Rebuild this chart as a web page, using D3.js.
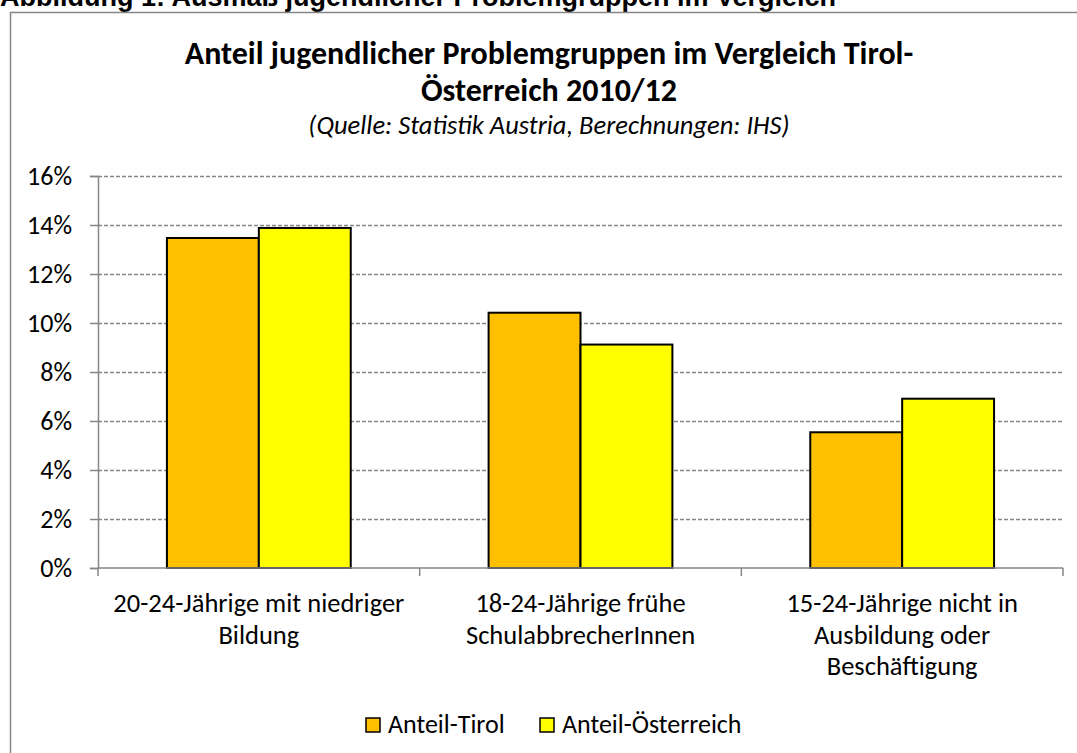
<!DOCTYPE html>
<html>
<head>
<meta charset="utf-8">
<script src="https://cdn.jsdelivr.net/npm/d3@7"></script>
<style>
  body { margin: 0; background: #fff; }
  svg { display: block; }
  .lbl { font-family: Carlito, Calibri, Lato, "Open Sans", sans-serif; fill: #000; }
</style>
</head>
<body>
<script>
var width = 1077;
var height = 753;

// data
var categories = [
  ['20-24-Jährige mit niedriger', 'Bildung'],
  ['18-24-Jährige frühe', 'SchulabbrecherInnen'],
  ['15-24-Jährige nicht in', 'Ausbildung oder', 'Beschäftigung']
];
var seriesNames = ['Anteil-Tirol', 'Anteil-Österreich'];
var seriesColors = ['#FFC000', '#FFFF00'];
var tirol = [0.1347, 0.1042, 0.0554];
var oesterreich = [0.1388, 0.0912, 0.0691];
var yTicks = [0, 0.02, 0.04, 0.06, 0.08, 0.10, 0.12, 0.14, 0.16];

var margin = {left: 98, right: 1063, top: 176, bottom: 568};

var svg = d3.select('body').append('svg')
  .attr('width', width).attr('height', height);

// header line above the figure (cut off at the top)
svg.append('text')
  .attr('x', 0).attr('y', 6)
  .style('font-family', '"Liberation Sans", Arial, sans-serif')
  .style('font-weight', 'bold').style('font-size', '27px')
  .text('Abbildung 1: Ausmaß jugendlicher Problemgruppen im Vergleich');

// chart frame
svg.append('rect')
  .attr('x', 10.5).attr('y', 12.5)
  .attr('width', 1200).attr('height', 900)
  .attr('fill', '#fff').attr('stroke', '#868686').attr('stroke-width', 1.5);

// titles
svg.append('text').attr('class', 'lbl')
  .attr('x', 549).attr('y', 64).attr('text-anchor', 'middle')
  .style('font-weight', 'bold').style('font-size', '32px')
  .text('Anteil jugendlicher Problemgruppen im Vergleich Tirol-');
svg.append('text').attr('class', 'lbl')
  .attr('x', 549).attr('y', 101).attr('text-anchor', 'middle')
  .style('font-weight', 'bold').style('font-size', '32px')
  .text('Österreich 2010/12');
svg.append('text').attr('class', 'lbl')
  .attr('x', 549).attr('y', 134).attr('text-anchor', 'middle')
  .style('font-style', 'italic').style('font-size', '26.5px')
  .text('(Quelle: Statistik Austria, Berechnungen: IHS)');

var y = d3.scaleLinear().domain([0, 0.16]).range([margin.bottom, margin.top]);
var x0 = d3.scaleBand().domain(d3.range(categories.length))
  .range([margin.left, margin.right]).paddingInner(1.5 / 3.5).paddingOuter(0.75 / 3.5);
var x1 = d3.scaleBand().domain([0, 1]).range([0, x0.bandwidth()]);

// gridlines
svg.append('g').selectAll('line')
  .data(yTicks.filter(function(d) { return d > 0; }))
  .enter().append('line')
  .attr('x1', margin.left).attr('x2', margin.right)
  .attr('y1', function(d) { return Math.round(y(d)) + 0.5; })
  .attr('y2', function(d) { return Math.round(y(d)) + 0.5; })
  .attr('stroke', '#868686').attr('stroke-width', 1.5)
  .attr('stroke-dasharray', '4,2');

// y axis
var yAxis = svg.append('g')
  .attr('transform', 'translate(' + margin.left + ',0)')
  .call(d3.axisLeft(y).tickValues(yTicks).tickSize(8).tickPadding(18)
    .tickFormat(d3.format('.0%')));
yAxis.select('.domain').attr('stroke', '#868686').attr('stroke-width', 1.5);
yAxis.selectAll('.tick line').attr('stroke', '#868686').attr('stroke-width', 1.5);
yAxis.selectAll('.tick text').attr('class', 'lbl')
  .style('font-size', '26px').attr('fill', '#000');

// bars
var series = [tirol, oesterreich];
var groups = svg.append('g').selectAll('g')
  .data(categories).enter().append('g')
  .attr('transform', function(d, i) { return 'translate(' + x0(i) + ',0)'; });
groups.selectAll('rect')
  .data(function(d, i) { return series.map(function(s, k) { return {k: k, v: s[i]}; }); })
  .enter().append('rect')
  .attr('x', function(d) { return x1(d.k); })
  .attr('y', function(d) { return y(d.v); })
  .attr('width', x1.bandwidth())
  .attr('height', function(d) { return y(0) - y(d.v); })
  .attr('fill', function(d) { return seriesColors[d.k]; })
  .attr('stroke', '#000').attr('stroke-width', 2);

// x axis with ticks at category boundaries
var step = x0.step();
var bounds = d3.range(categories.length + 1).map(function(i) { return margin.left + i * step; });
svg.append('line')
  .attr('x1', margin.left).attr('x2', margin.right)
  .attr('y1', y(0)).attr('y2', y(0))
  .attr('stroke', '#868686').attr('stroke-width', 1.5);
svg.append('g').selectAll('line').data(bounds).enter().append('line')
  .attr('x1', function(d) { return d; }).attr('x2', function(d) { return d; })
  .attr('y1', y(0)).attr('y2', y(0) + 8)
  .attr('stroke', '#868686').attr('stroke-width', 1.5);

// category labels
groups.each(function(lines, i) {
  var t = d3.select(this).append('text').attr('class', 'lbl')
    .attr('text-anchor', 'middle').style('font-size', '26.5px');
  lines.forEach(function(l, j) {
    t.append('tspan').attr('x', x0.bandwidth() / 2)
      .attr('y', 612 + j * 31.5).text(l);
  });
});

// legend
var legendX = [366, 540];
var leg = svg.append('g').selectAll('g').data(seriesNames).enter().append('g')
  .attr('transform', function(d, i) { return 'translate(' + legendX[i] + ',718)'; });
leg.append('rect').attr('width', 14).attr('height', 14)
  .attr('fill', function(d, i) { return seriesColors[i]; })
  .attr('stroke', '#000').attr('stroke-width', 1.5);
leg.append('text').attr('class', 'lbl')
  .attr('x', 22).attr('y', 15).style('font-size', '26px')
  .text(function(d) { return d; });
</script>
</body>
</html>
